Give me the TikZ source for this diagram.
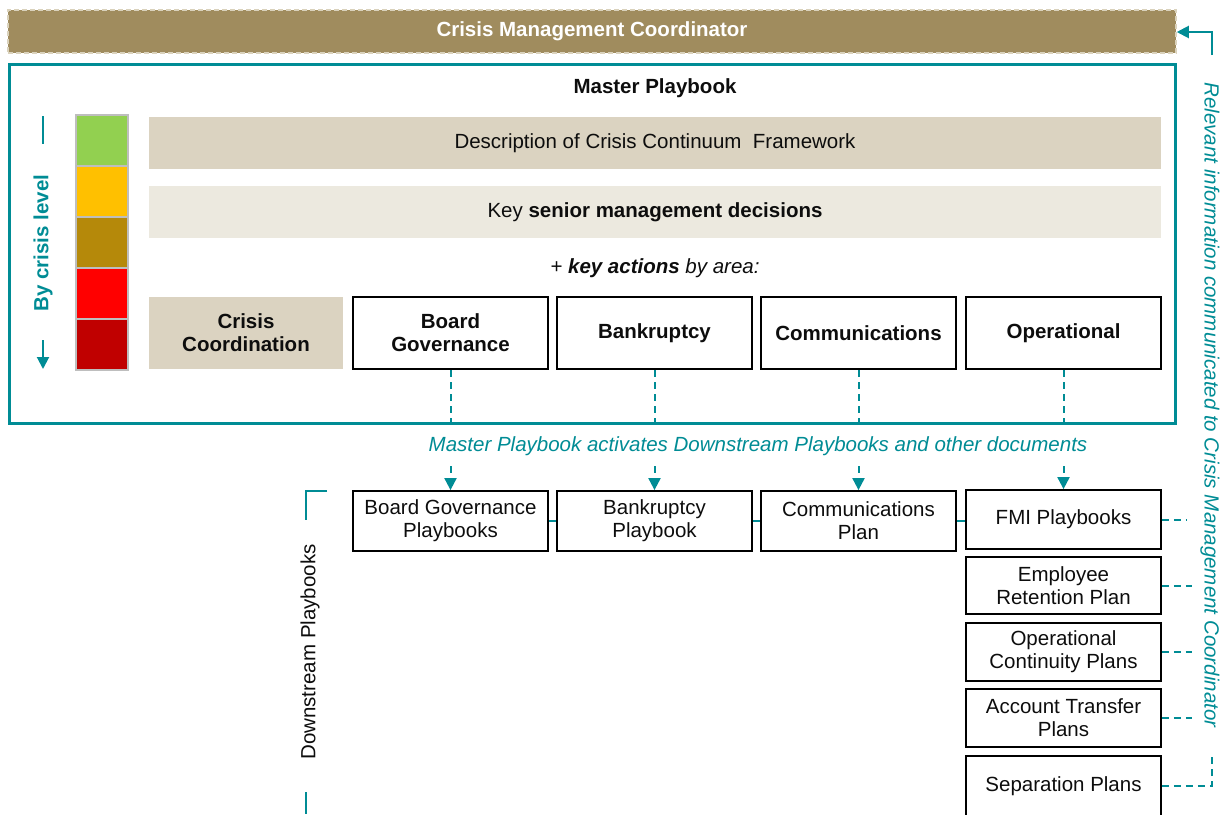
\documentclass[tikz,border=0pt]{standalone}
\usepackage{fontspec}
\setmainfont{Liberation Sans}
\usetikzlibrary{arrows.meta,backgrounds}
\definecolor{teal1}{RGB}{0,140,149}
\definecolor{bannerfill}{RGB}{160,140,94}
\definecolor{bannerdash}{RGB}{218,210,188}
\definecolor{descfill}{RGB}{219,211,193}
\definecolor{keyfill}{RGB}{236,233,223}
\definecolor{lvgreen}{RGB}{146,208,80}
\definecolor{lvamber}{RGB}{255,192,0}
\definecolor{lvgold}{RGB}{181,137,10}
\definecolor{lvred}{RGB}{255,0,0}
\definecolor{lvdark}{RGB}{192,0,0}
\definecolor{sqborder}{RGB}{190,190,190}
\definecolor{txt}{RGB}{13,13,13}
\tikzset{
  base/.style={font=\fontsize{20.5}{23}\selectfont, text=txt, align=center, inner sep=0pt},
  areabox/.style={base, draw=black, line width=2pt, minimum width=195pt, minimum height=72pt, font=\fontsize{20.5}{23}\selectfont\bfseries},
  dsbox/.style={base, draw=black, line width=1.8pt, minimum width=195pt},
  bar/.style={base, minimum width=1012pt, minimum height=52pt},
  lvsq/.style={draw=sqborder, line width=1.5pt, minimum width=52pt, minimum height=51pt, inner sep=0pt},
  tealline/.style={draw=teal1, line width=2pt},
  tealdash/.style={draw=teal1, line width=2pt, dash pattern=on 7pt off 5pt},
  tip/.style={-{Triangle[length=12pt,width=12pt]}},
}
\begin{document}
\begin{tikzpicture}[x=1pt,y=-1pt]
\useasboundingbox (0,0) rectangle (1225,814);

% banner
\node[base, fill=bannerfill, draw=bannerdash, line width=1.5pt, dash pattern=on 5pt off 3pt,
      minimum width=1168pt, minimum height=43pt, text=white, font=\fontsize{20.5}{23}\selectfont\bfseries]
      (banner) at (592,31.5) {Crisis Management Coordinator};

% master box
\node[draw=teal1, line width=3pt, minimum width=1166pt, minimum height=359pt, inner sep=0pt] (master) at (592,243.5) {};
\node[base, font=\fontsize{20.5}{23}\selectfont\bfseries] (mptitle) at (655,88) {Master Playbook};

\node[bar, fill=descfill] (desc) at (655,143) {Description of Crisis Continuum\ \ Framework};
\node[bar, fill=keyfill] (keyd) at (655,212) {Key \textbf{senior management decisions}};
\node[base, font=\fontsize{20.5}{23}\selectfont\itshape] (actions) at (655,268) {+ \textbf{key actions} by area:};

% level squares
\node[lvsq, fill=lvgreen] (l1) at (102,140.5) {};
\node[lvsq, fill=lvamber] (l2) at (102,191.5) {};
\node[lvsq, fill=lvgold]  (l3) at (102,242.5) {};
\node[lvsq, fill=lvred]   (l4) at (102,293.5) {};
\node[lvsq, fill=lvdark]  (l5) at (102,344.5) {};

\node[base, text=teal1, rotate=90, font=\fontsize{20.5}{23}\selectfont\bfseries] (bylevel) at (43,243) {By crisis level};
\coordinate (lvtopA) at (43,116);
\coordinate (lvtopB) at (43,144);
\coordinate (lvbotA) at (43,340);
\coordinate (lvbotB) at (43,369);
\draw[tealline] (lvtopA) -- (lvtopB);
\draw[tealline, tip] (lvbotA) -- (lvbotB);

% area boxes
\node[base, fill=descfill, minimum width=194pt, minimum height=72pt, font=\fontsize{20.5}{23}\selectfont\bfseries] (acrisis) at (246,333) {Crisis\\Coordination};
\node[areabox] (aboard) at (450.5,333) {Board\\Governance};
\node[areabox] (abank) at (654.5,333) {Bankruptcy};
\node[areabox] (acomm) at (858.5,333) {Communications};
\node[areabox] (aoper) at (1063.5,333) {Operational};

% activation text
\node[base, text=teal1, fill=white, inner xsep=4pt, inner ysep=8pt, font=\fontsize{20.5}{23}\selectfont\itshape] (activ) at (758,446) {Master Playbook activates Downstream Playbooks and other documents};

% downstream boxes
\node[dsbox, minimum height=60pt] (dboard) at (450.5,521) {Board Governance\\Playbooks};
\node[dsbox, minimum height=60pt] (dbank) at (654.5,521) {Bankruptcy\\Playbook};
\node[dsbox, minimum height=60pt] (dcomm) at (858.5,521) {Communications\\Plan};
\node[dsbox, minimum height=59pt] (dfmi) at (1063.5,519.5) {FMI Playbooks};
\node[dsbox, minimum height=57pt] (demp) at (1063.5,585.5) {Employee\\Retention Plan};
\node[dsbox, minimum height=58pt] (dopc) at (1063.5,652) {Operational\\Continuity Plans};
\node[dsbox, minimum height=58pt] (dacc) at (1063.5,718) {Account Transfer\\Plans};
\node[dsbox, minimum height=60pt] (dsep) at (1063.5,786) {Separation Plans};

\begin{scope}[on background layer]
\draw[tealdash, tip] (aboard.south) -- (dboard.north);
\draw[tealdash, tip] (abank.south) -- (dbank.north);
\draw[tealdash, tip] (acomm.south) -- (dcomm.north);
\draw[tealdash, tip] (aoper.south) -- (dfmi.north);
\end{scope}

% teal links between downstream boxes
\draw[tealline] (dboard.east) -- (dbank.west);
\draw[tealline] (dbank.east) -- (dcomm.west);
\draw[tealline] (dcomm.east) -- (dfmi.west |- dcomm.east);

% right dashed links
\coordinate (rfmi) at (1187,519.5);
\coordinate (remp) at (1192,585.5);
\coordinate (ropc) at (1192,652);
\coordinate (racc) at (1192,718);
\coordinate (rsep) at (1212,786);
\coordinate (rsepup) at (1212,753);
\draw[tealdash] (dfmi.east) -- (rfmi);
\draw[tealdash] (demp.east) -- (remp);
\draw[tealdash] (dopc.east) -- (ropc);
\draw[tealdash] (dacc.east) -- (racc);
\draw[tealdash] (dsep.east) -- (rsep) -- (rsepup);

% feedback arrow to banner
\coordinate (fbA) at (1212,55);
\coordinate (fbB) at (1212,32);
\draw[tealline, tip] (fbA) -- (fbB) -- (banner.east |- fbB);

\node[base, text=teal1, rotate=-90, font=\fontsize{20.5}{23}\selectfont\itshape] (relinfo) at (1210,405) {Relevant information communicated to Crisis Management Coordinator};

% downstream bracket
\node[base, rotate=90] (dslabel) at (310,652) {Downstream Playbooks};
\coordinate (brA) at (327,491);
\coordinate (brB) at (306,491);
\coordinate (brC) at (306,520);
\coordinate (brD) at (306,792);
\coordinate (brE) at (306,814);
\draw[tealline] (brA) -- (brB) -- (brC);
\draw[tealline] (brD) -- (brE);
\end{tikzpicture}
\end{document}
